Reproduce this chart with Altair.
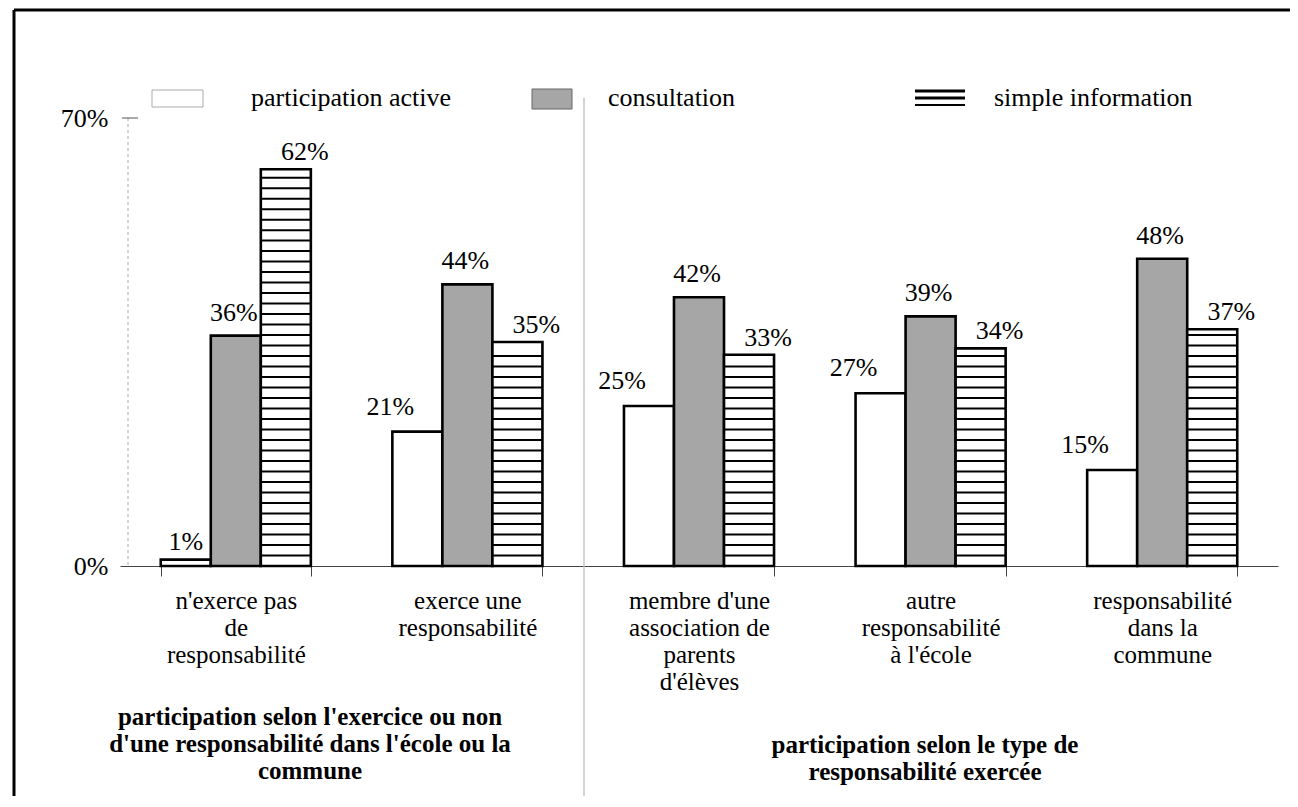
import altair as alt
import pandas as pd

# ---------------- data ----------------
categories = [
    "n'exerce pas|de|responsabilité",
    "exerce une|responsabilité",
    "membre d'une|association de|parents|d'élèves",
    "autre|responsabilité|à l'école",
    "responsabilité|dans la|commune",
]
series_names = ["participation active", "consultation", "simple information"]
participation_active = [1, 21, 25, 27, 15]
consultation = [36, 44, 42, 39, 48]
simple_information = [62, 35, 33, 34, 37]
y_tick_values = [0, 70]
title_left = ["participation selon l'exercice ou non",
              "d'une  responsabilité dans l'école ou la",
              "commune"]
title_right = ["participation selon le type de",
               "responsabilité exercée"]

rows = []
for s, vals in zip(series_names, [participation_active, consultation, simple_information]):
    for c, v in zip(categories, vals):
        rows.append({"cat": c, "series": s, "value": v, "label": f"{v}%"})
df = pd.DataFrame(rows)

# hatch pattern (horizontal stripes) for the "simple information" bars
STRIPE_STEP = 1.64
stripe_rows = []
for c, v in zip(categories, simple_information):
    k = 1
    while k * STRIPE_STEP < v - 0.6:
        stripe_rows.append({"cat": c, "series": series_names[2], "value": k * STRIPE_STEP})
        k += 1
stripes = pd.DataFrame(stripe_rows)

one = pd.DataFrame({"k": [0]})

FONT = "Liberation Serif"
FS = 26
FSL = 25
W, H = 1158, 448

x_enc = alt.X(
    "cat:N", sort=categories,
    scale=alt.Scale(domain=categories, paddingInner=0.352, paddingOuter=0.176),
    axis=alt.Axis(title=None, labelExpr="split(datum.label, '|')", labelFont=FONT,
                  labelFontSize=FSL, labelLineHeight=27, labelAngle=0, labelColor="black",
                  labelPadding=12, labelLimit=400, tickBand="extent", tickSize=10,
                  tickColor="#444", tickWidth=1, domainColor="#444", domainWidth=1,
                  grid=False, labelOverlap=False),
)
xo_enc = alt.XOffset("series:N", sort=series_names,
                     scale=alt.Scale(domain=series_names, paddingInner=0, paddingOuter=0))
y_enc = alt.Y(
    "value:Q", scale=alt.Scale(domain=[0, 70], nice=False),
    axis=alt.Axis(title=None, values=y_tick_values, labelExpr="datum.value + '%'",
                  labelFont=FONT, labelFontSize=FS, labelColor="black", labelPadding=12,
                  domain=False, ticks=False, grid=False),
)

bars = alt.Chart(df).mark_bar(stroke="black", strokeWidth=2.6).encode(
    x=x_enc, xOffset=xo_enc, y=y_enc,
    fill=alt.Fill("series:N", scale=alt.Scale(domain=series_names,
                                              range=["white", "#a6a6a6", "white"]), legend=None),
)

stripe_layer = alt.Chart(stripes).mark_tick(
    orient="horizontal", thickness=2, size=49, color="black", opacity=1
).encode(x=x_enc, xOffset=xo_enc, y=y_enc)


def label_layer(filter_expr, dx, dy):
    return alt.Chart(df).transform_filter(filter_expr).mark_text(
        font=FONT, fontSize=FS, dx=dx, dy=dy, baseline="middle", align="center", color="black"
    ).encode(x=x_enc, xOffset=xo_enc, y=y_enc, text="label:N")


lab_white_small = label_layer("datum.series == 'participation active' && datum.value < 5", 0, -18)
lab_white = label_layer("datum.series == 'participation active' && datum.value >= 5", -27, -25)
lab_gray = label_layer("datum.series == 'consultation'", -2, -23)
lab_striped = label_layer("datum.series == 'simple information'", 19, -17)

# ---------------- decorations ----------------
y_line = alt.Chart(one).mark_rule(color="#aaa", strokeWidth=1, strokeDash=[3, 3]).encode(
    x=alt.value(8), y=alt.value(0), y2=alt.value(H))
y_tick = alt.Chart(one).mark_rule(color="#555", strokeWidth=1).encode(
    x=alt.value(2), x2=alt.value(18), y=alt.value(0))

frame_top = alt.Chart(one).mark_rule(color="black", strokeWidth=3).encode(
    x=alt.value(-106), x2=alt.value(1176), y=alt.value(-108))
frame_left = alt.Chart(one).mark_rule(color="black", strokeWidth=3).encode(
    x=alt.value(-106), y=alt.value(-108), y2=alt.value(700))
separator = alt.Chart(one).mark_rule(color="#c4c4c4", strokeWidth=1.5).encode(
    x=alt.value(464), y=alt.value(-20), y2=alt.value(700))

# legend
leg_white = alt.Chart(one).mark_rect(fill="white", stroke="#aaa", strokeWidth=1).encode(
    x=alt.value(32), x2=alt.value(83), y=alt.value(-28), y2=alt.value(-11))
leg_gray = alt.Chart(one).mark_rect(fill="#a6a6a6", stroke="#666", strokeWidth=1).encode(
    x=alt.value(412), x2=alt.value(452), y=alt.value(-29), y2=alt.value(-9))
leg_lines = [
    alt.Chart(one).mark_rule(color="black", strokeWidth=sw).encode(
        x=alt.value(795), x2=alt.value(845), y=alt.value(yy))
    for yy, sw in [(-27, 3), (-20, 3), (-13, 2)]
]


def leg_text(txt, xx):
    return alt.Chart(one).mark_text(text=txt, font=FONT, fontSize=FS, align="left",
                                    baseline="middle", color="black").encode(
        x=alt.value(xx), y=alt.value(-20))


leg_t1 = leg_text(series_names[0], 131)
leg_t2 = leg_text(series_names[1], 488)
leg_t3 = leg_text(series_names[2], 874)

t_left = alt.Chart(one).mark_text(text=title_left, font=FONT, fontSize=FSL, fontWeight="bold",
                                  align="center", baseline="top", lineHeight=27,
                                  color="black").encode(x=alt.value(190), y=alt.value(587))
t_right = alt.Chart(one).mark_text(text=title_right, font=FONT, fontSize=FSL, fontWeight="bold",
                                   align="center", baseline="top", lineHeight=27,
                                   color="black").encode(x=alt.value(805), y=alt.value(615))

chart = alt.layer(
    frame_top, frame_left, separator, y_line, y_tick,
    bars, stripe_layer,
    lab_white_small, lab_white, lab_gray, lab_striped,
    leg_white, leg_gray, *leg_lines, leg_t1, leg_t2, leg_t3,
    t_left, t_right,
).properties(
    width=W, height=H,
    padding={"left": 112, "top": 110, "right": 12, "bottom": 230},
    autosize=alt.AutoSizeParams(type="none"),
    background="white",
).configure_view(stroke=None)

chart.save("out.html", embed_options={"renderer": "svg", "actions": False})
